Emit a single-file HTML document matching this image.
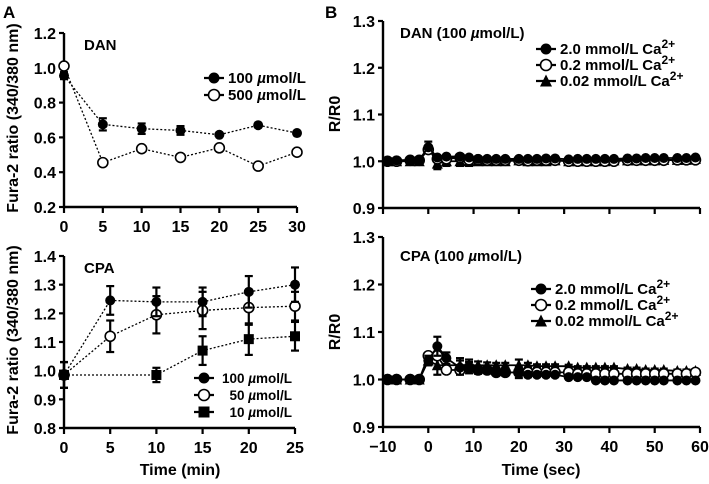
<!DOCTYPE html>
<html><head><meta charset="utf-8"><style>
html,body{margin:0;padding:0;background:#fff;}
svg{display:block;font-family:"Liberation Sans",Arial,sans-serif;font-weight:bold;}
</style></head><body>
<svg id="fig" width="709" height="484" viewBox="0 0 709 484" xmlns="http://www.w3.org/2000/svg"></svg>
<script>
// ---- Data ----
const aTopTimes = [0,5,10,15,20,25,30];
const aTop100 = [0.955,0.675,0.65,0.64,0.615,0.67,0.625];
const aTop100Err = [0.02,0.035,0.03,0.025,0,0,0];
const aTop500 = [1.01,0.455,0.535,0.485,0.54,0.435,0.515];
const aTopYTicks = [0.2,0.4,0.6,0.8,1.0,1.2];
const aTopXTicks = [0,5,10,15,20,25,30];

const aBotTimes = [0,5,10,15,20,25];
const aBot100 = [0.985,1.245,1.24,1.24,1.275,1.30];
const aBot100Err = [0.045,0.05,0.05,0.05,0.055,0.06];
const aBot50 = [0.985,1.12,1.195,1.21,1.22,1.225];
const aBot50Err = [0.045,0.055,0.065,0.065,0.06,0.05];
const aBot10Times = [0,10,15,20,25];
const aBot10 = [0.985,0.985,1.07,1.11,1.12];
const aBot10Err = [0.045,0.025,0.05,0.055,0.05];
const aBotYTicks = [0.8,0.9,1.0,1.1,1.2,1.3,1.4];
const aBotXTicks = [0,5,10,15,20,25];

const bTimes = [-9,-7,-4,-2,0,2,4,7,9,11,13,15,17,20,22,24,26,28,31,33,35,37,39,41,44,46,48,50,52,55,57,59];
const bTop20 = [1.0,1.002,1.003,1.003,1.03,1.008,1.01,1.01,1.008,1.005,1.005,1.005,1.005,1.005,1.005,1.005,1.006,1.006,1.004,1.005,1.005,1.005,1.005,1.005,1.006,1.006,1.007,1.007,1.007,1.007,1.007,1.008];
const bTop02 = [1.0,1.0,1.002,1.002,1.025,1.005,1.005,1.008,1.003,1.003,1.002,1.002,1.002,1.002,1.001,1.002,1.002,1.002,1.0,1.0,1.0,1.0,1.0,1.0,1.002,1.002,1.002,1.002,1.002,1.003,1.003,1.003];
const bTop002 = [1.0,1.0,1.0,1.0,1.03,0.995,1.0,1.0,1.0,1.0,1.0,1.0,1.0,1.002,1.0,1.0,1.0,1.002,1.0,1.0,1.0,1.0,1.0,1.002,1.002,1.002,1.002,1.002,1.003,1.003,1.003,1.005];
const bTopErr = [0,0,0,0,0.012,0.012,0.01,0.01,0.01,0.008,0.005,0.004,0,0,0,0,0,0,0,0,0,0,0,0,0,0,0,0,0,0,0,0];
const bBot20 = [1.0,1.0,1.0,1.0,1.04,1.07,1.045,1.025,1.025,1.02,1.02,1.015,1.015,1.015,1.01,1.01,1.01,1.01,1.005,1.005,1.005,0.998,0.998,0.998,0.998,0.998,0.998,0.998,0.998,0.998,0.998,0.998];
const bBot02 = [1.0,1.0,1.0,1.0,1.05,1.05,1.02,1.02,1.025,1.02,1.02,1.015,1.015,1.015,1.015,1.015,1.015,1.015,1.015,1.012,1.012,1.012,1.012,1.012,1.012,1.012,1.012,1.012,1.012,1.012,1.012,1.015];
const bBot002 = [1.0,1.0,1.0,1.0,1.04,1.03,1.03,1.03,1.03,1.03,1.03,1.03,1.03,1.03,1.03,1.028,1.028,1.028,1.028,1.025,1.025,1.025,1.025,1.025,1.022,1.022,1.02,1.02,1.02,1.018,1.018,1.018];
const bBotErr = [0,0,0,0,0.01,0.02,0.012,0.015,0.012,0.008,0.006,0.005,0.005,0.012,0.005,0.004,0.004,0.004,0.003,0.003,0.003,0.003,0.003,0.003,0.003,0.003,0.003,0.003,0.003,0.003,0.003,0.003];
const bYTicks = [0.9,1.0,1.1,1.2,1.3];
const bXTicks = [-10,0,10,20,30,40,50,60];

const NS = "http://www.w3.org/2000/svg";
const svg = document.getElementById('fig');
function mk(tag, attrs, parent, name){
  const e = document.createElementNS(NS, tag);
  for (const k in attrs) e.setAttribute(k, attrs[k]);
  
  
  (parent||svg).appendChild(e);
  return e;
}
function txt(x,y,s,size,anchor,name,extra){
  const t = mk('text', Object.assign({x:x,y:y,'font-size':size,'text-anchor':anchor||'start',fill:'#000'}, extra||{}), svg, name);
  t.innerHTML = s;
  return t;
}
function scale(d0,d1,r0,r1){ return v => r0 + (v-d0)/(d1-d0)*(r1-r0); }

function axes(x0,x1,y0,y1,xs,ys,xt,yt,fmtY,showXLabels,name){
  const g = mk('g',{},svg,name);
  mk('line',{x1:x0,y1:y0,x2:x0,y2:y1,stroke:'#000','stroke-width':2.4},g,'y-axis');
  mk('line',{x1:x0,y1:y0,x2:x1,y2:y0,stroke:'#000','stroke-width':2.4},g,'x-axis');
  yt.forEach(v=>{
    const y = ys(v);
    mk('line',{x1:x0-5,y1:y,x2:x0,y2:y,stroke:'#000','stroke-width':2.2},g,'y-tick');
    txt(x0-8,y+6,fmtY(v),16,'end','y-tick-label');
  });
  xt.forEach(v=>{
    const x = xs(v);
    mk('line',{x1:x,y1:y0,x2:x,y2:y0+6,stroke:'#000','stroke-width':2.2},g,'x-tick');
    if (showXLabels) txt(x,y0+25,v<0?'\u2212'+(-v):String(v),16,'middle','x-tick-label');
  });
}
function series(xsArr,ysArr,err,xs,ys,marker,dotted,name,size){
  const g = mk('g',{},svg,name);
  const r = size||4.5;
  const pts = xsArr.map((t,i)=>xs(t)+','+ys(ysArr[i])).join(' ');
  mk('polyline',{points:pts,fill:'none',stroke:'#000','stroke-width':dotted?1.3:1.8,'stroke-dasharray':dotted?'2,2':'none'},g,'series-line');
  xsArr.forEach((t,i)=>{
    const x = xs(t), y = ys(ysArr[i]);
    if (err && err[i]>0){
      const ya = ys(ysArr[i]+err[i]), yb = ys(ysArr[i]-err[i]);
      mk('line',{x1:x,y1:ya,x2:x,y2:yb,stroke:'#000','stroke-width':2.2},g,'error-bar');
      mk('line',{x1:x-4,y1:ya,x2:x+4,y2:ya,stroke:'#000','stroke-width':2.2},g,'error-cap');
      mk('line',{x1:x-4,y1:yb,x2:x+4,y2:yb,stroke:'#000','stroke-width':2.2},g,'error-cap');
    }
    drawMarker(g,marker,x,y,r);
  });
}
function drawMarker(g,marker,x,y,r){
  if (marker==='filled') mk('circle',{cx:x,cy:y,r:r,fill:'#000'},g,'point');
  else if (marker==='open') mk('circle',{cx:x,cy:y,r:r,fill:'#fff',stroke:'#000','stroke-width':1.6},g,'point');
  else if (marker==='square') mk('rect',{x:x-r,y:y-r,width:2*r,height:2*r,fill:'#000'},g,'point');
  else if (marker==='tri') mk('polygon',{points:`${x},${y-r-1} ${x-r-0.5},${y+r} ${x+r+0.5},${y+r}`,fill:'#000'},g,'point');
}
function legend(x,y,items,gap,labelX,anchor){
  items.forEach((it,i)=>{
    const yy = y + i*gap;
    const g = mk('g',{},svg,'legend-entry');
    mk('line',{x1:x-10,y1:yy,x2:x+10,y2:yy,stroke:'#000','stroke-width':2.2},g,'legend-line');
    drawMarker(g,it.m,x,yy,5.5);
    txt(labelX!==undefined?labelX:x+14,yy+5,it.t,it.size||14,anchor||'start','legend-label');
  });
}
const f1 = v=>v.toFixed(1);
const mu = '<tspan font-style="italic">µ</tspan>';
const ca = 'Ca<tspan dy="-6" font-size="12">2+</tspan>';

// Panel A top
{
  const xs = scale(0,30,64,297), ys = scale(0.2,1.2,207,33);
  axes(64,297,207,33,xs,ys,aTopXTicks,aTopYTicks,f1,true,'panel-a-top-axes');
  series(aTopTimes,aTop500,null,xs,ys,'open',true,'series-500',5);
  series(aTopTimes,aTop100,aTop100Err,xs,ys,'filled',true,'series-100',5);
  txt(84,50,'DAN',15,'start','panel-title');
  legend(214,78,[{m:'filled',t:'100 '+mu+'mol/L',size:15},{m:'open',t:'500 '+mu+'mol/L',size:15}],17);
}
// Panel A bottom
{
  const xs = scale(0,25,64,295), ys = scale(0.8,1.4,428,256);
  axes(64,295,428,256,xs,ys,aBotXTicks,aBotYTicks,f1,true,'panel-a-bottom-axes');
  series(aBot10Times,aBot10,aBot10Err,xs,ys,'square',true,'series-10',5);
  series(aBotTimes,aBot50,aBot50Err,xs,ys,'open',true,'series-50',5);
  series(aBotTimes,aBot100,aBot100Err,xs,ys,'filled',true,'series-100',5);
  txt(84,273,'CPA',15,'start','panel-title');
  legend(204,378,[{m:'filled',t:'100 '+mu+'mol/L',size:13.5},{m:'open',t:'50 '+mu+'mol/L',size:13.5},{m:'square',t:'10 '+mu+'mol/L',size:13.5}],17,292,'end');
  txt(180,475,'Time (min)',16,'middle','x-axis-title');
}
// Panel B top
{
  const xs = scale(-10,60,383,700), ys = scale(0.9,1.3,208,21);
  axes(383,700,208,21,xs,ys,bXTicks,bYTicks,f1,false,'panel-b-top-axes');
  series(bTimes,bTop002,bTopErr,xs,ys,'tri',false,'series-0.02mM',5);
  series(bTimes,bTop02,null,xs,ys,'open',false,'series-0.2mM',5);
  series(bTimes,bTop20,null,xs,ys,'filled',false,'series-2.0mM',5);
  txt(400,38,'DAN (100 '+mu+'mol/L)',15,'start','panel-title');
  legend(546,49,[{m:'filled',t:'2.0 mmol/L '+ca,size:15},{m:'open',t:'0.2 mmol/L '+ca,size:15},{m:'tri',t:'0.02 mmol/L '+ca,size:15}],16);
}
// Panel B bottom
{
  const xs = scale(-10,60,383,700), ys = scale(0.9,1.3,427,237);
  axes(383,700,427,237,xs,ys,bXTicks,bYTicks,f1,true,'panel-b-bottom-axes');
  series(bTimes,bBot002,bBotErr,xs,ys,'tri',false,'series-0.02mM',5);
  series(bTimes,bBot02,null,xs,ys,'open',false,'series-0.2mM',5);
  series(bTimes,bBot20,bBotErr,xs,ys,'filled',false,'series-2.0mM',5);
  txt(400,261,'CPA (100 '+mu+'mol/L)',15,'start','panel-title');
  legend(541,289,[{m:'filled',t:'2.0 mmol/L '+ca,size:15},{m:'open',t:'0.2 mmol/L '+ca,size:15},{m:'tri',t:'0.02 mmol/L '+ca,size:15}],16);
  txt(541,475,'Time (sec)',16,'middle','x-axis-title');
}
// Labels
txt(3,18,'A',17,'start','panel-label-a');
txt(325,18,'B',17,'start','panel-label-b');
txt(0,0,'Fura-2 ratio (340/380 nm)',16,'middle','y-axis-title-a-top',{transform:'translate(18,118) rotate(-90)'});
txt(0,0,'Fura-2 ratio (340/380 nm)',16,'middle','y-axis-title-a-bottom',{transform:'translate(18,340) rotate(-90)'});
txt(0,0,'R/R0',16,'middle','y-axis-title-b-top',{transform:'translate(340,114) rotate(-90)'});
txt(0,0,'R/R0',16,'middle','y-axis-title-b-bottom',{transform:'translate(340,332) rotate(-90)'});
</script>
</body></html>
